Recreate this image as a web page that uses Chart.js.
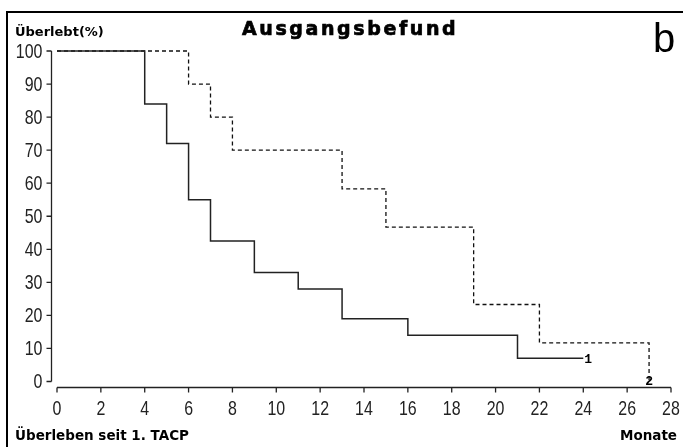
<!DOCTYPE html>
<html><head><meta charset="utf-8">
<script src="https://cdn.jsdelivr.net/npm/chart.js@4.4.1/dist/chart.umd.min.js"></script>
<style>html,body{margin:0;padding:0;background:#fff;} #wrap{position:relative;width:683px;height:447px;} canvas{display:block;}</style>
</head><body><div id="wrap"><canvas id="c" width="683" height="447"></canvas></div>
<script>
// ---- data ----
const months1 = [0, 4, 5, 6, 7, 9, 11, 13, 16, 21, 24];
const surv1   = [100, 84, 72, 55, 42.5, 33, 28, 19, 14, 7, 7];
const months2 = [0, 6, 7, 8, 13, 15, 19, 22, 27];
const surv2   = [100, 90, 80, 70, 58.3, 46.7, 23.3, 11.7, 0];
const xTicks = [0, 2, 4, 6, 8, 10, 12, 14, 16, 18, 20, 22, 24, 26, 28];
const yTicks = [0, 10, 20, 30, 40, 50, 60, 70, 80, 90, 100];
const curveLabels = ['1', '2'];
const titleText = 'Ausgangsbefund';
const yTitle = 'Überlebt(%)';
const xTitleLeft = 'Überleben seit 1. TACP';
const xTitleRight = 'Monate';
const panelLetter = 'b';

// narrow tick text: drawn through the library's scales, squeezed horizontally
function narrowText(ctx, txt, x, y, align) {
  const sx = 0.76;
  ctx.save();
  ctx.translate(x, y);
  ctx.scale(sx, 1);
  ctx.textAlign = align;
  ctx.fillText(txt, 0, 0);
  ctx.restore();
}

const decor = {
  id: 'decor',
  afterDraw(chart) {
    const ctx = chart.ctx, xs = chart.scales.x, ys = chart.scales.y, ca = chart.chartArea;
    ctx.save();
    // frame
    ctx.strokeStyle = '#000'; ctx.lineWidth = 2;
    ctx.beginPath(); ctx.moveTo(7, 447); ctx.lineTo(7, 12); ctx.lineTo(683, 12); ctx.stroke();
    // y axis
    ctx.strokeStyle = '#222'; ctx.lineWidth = 1.3;
    const ax = Math.round(ca.left - 6) + 0.5;
    ctx.beginPath();
    ctx.moveTo(ax, ys.getPixelForValue(yTicks[yTicks.length-1]));
    ctx.lineTo(ax, ys.getPixelForValue(yTicks[0]));
    yTicks.forEach(v => { const p = ys.getPixelForValue(v); ctx.moveTo(ax - 5, p); ctx.lineTo(ax, p); });
    ctx.stroke();
    // x axis
    const ay = Math.round(ca.bottom + 5.5) + 0.5;
    ctx.beginPath();
    ctx.moveTo(xs.getPixelForValue(xTicks[0]), ay);
    ctx.lineTo(xs.getPixelForValue(xTicks[xTicks.length-1]), ay);
    xTicks.forEach(v => { const p = xs.getPixelForValue(v); ctx.moveTo(p, ay); ctx.lineTo(p, ay + 5); });
    ctx.stroke();
    // tick labels
    ctx.fillStyle = '#222';
    ctx.font = "21px 'Liberation Sans', sans-serif";
    ctx.textBaseline = 'middle';
    yTicks.forEach(v => narrowText(ctx, String(v), ax - 9, ys.getPixelForValue(v) + 1, 'right'));
    xTicks.forEach(v => narrowText(ctx, String(v), xs.getPixelForValue(v), ay + 22, 'center'));
    // texts
    ctx.fillStyle = '#000';
    ctx.textBaseline = 'alphabetic';
    ctx.font = "bold 13px 'DejaVu Sans', sans-serif";
    ctx.textAlign = 'left';
    ctx.fillText(yTitle, 15, 36);
    ctx.font = "bold 13.5px 'DejaVu Sans', sans-serif";
    ctx.fillText(xTitleLeft, 15, 440);
    ctx.textAlign = 'right';
    ctx.fillText(xTitleRight, 677, 440);
    ctx.textAlign = 'left';
    ctx.font = "bold 19px 'DejaVu Sans', sans-serif";
    if ('letterSpacing' in ctx) ctx.letterSpacing = '2.6px';
    ctx.lineWidth = 0.7; ctx.strokeStyle = '#000';
    ctx.fillText(titleText, 242, 35);
    ctx.strokeText(titleText, 242, 35);
    if ('letterSpacing' in ctx) ctx.letterSpacing = '0px';
    ctx.font = "40px 'Liberation Sans', sans-serif";
    ctx.fillText(panelLetter, 653, 52);
    // curve labels at curve ends
    ctx.font = "bold 13px 'Liberation Mono', monospace";
    chart.data.datasets.forEach((ds, i) => {
      const meta = chart.getDatasetMeta(i);
      const last = meta.data[meta.data.length - 1];
      ctx.textBaseline = 'middle';
      if (i === 0) { ctx.textAlign = 'left'; ctx.fillText(curveLabels[i], last.x + 1, last.y + 1); }
      else { ctx.textAlign = 'center'; ctx.fillText(curveLabels[i], last.x, last.y); }
    });
    ctx.restore();
  }
};

new Chart(document.getElementById('c'), {
  type: 'line',
  data: {
    datasets: [
      { data: months1.map((m, i) => ({x: m, y: surv1[i]})), borderColor: '#222', borderWidth: 1.5, stepped: 'before', pointRadius: 0, fill: false, clip: false },
      { data: months2.map((m, i) => ({x: m, y: surv2[i]})), borderColor: '#111', borderWidth: 1.3, borderDash: [4, 3], stepped: 'before', pointRadius: 0, fill: false, clip: false }
    ]
  },
  options: {
    responsive: false, animation: false, events: [],
    layout: {padding: {left: 0, right: 12, top: 51, bottom: 0}},
    plugins: {legend: {display: false}, tooltip: {enabled: false}, title: {display: false}},
    scales: {
      x: {
        type: 'linear', min: 0, max: 28,
        afterBuildTicks: s => { s.ticks = xTicks.map(v => ({value: v})); },
        afterFit: s => { s.height = 65.5; },
        grid: {display: false, drawTicks: false}, border: {display: false},
        ticks: {display: false}
      },
      y: {
        type: 'linear', min: 0, max: 100,
        afterBuildTicks: s => { s.ticks = yTicks.map(v => ({value: v})); },
        afterFit: s => { s.width = 57; },
        grid: {display: false, drawTicks: false}, border: {display: false},
        ticks: {display: false}
      }
    }
  },
  plugins: [decor]
});
</script></body></html>
